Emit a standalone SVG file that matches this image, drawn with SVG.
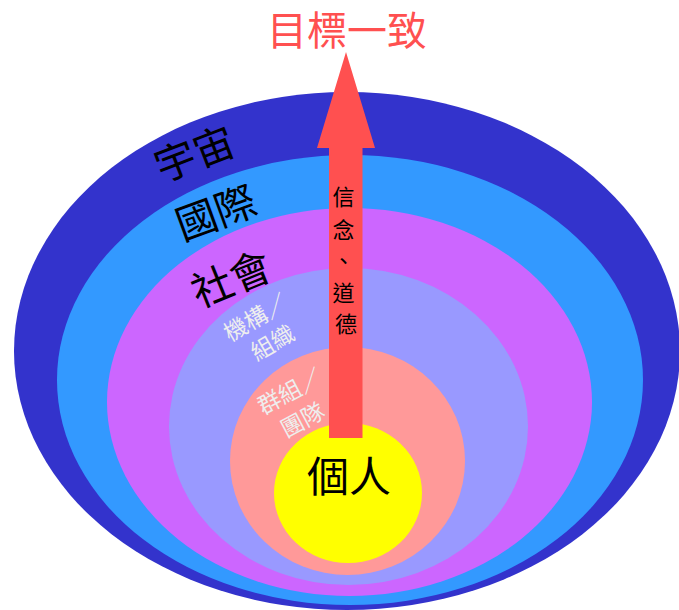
<svg xmlns="http://www.w3.org/2000/svg" width="679" height="610" viewBox="0 0 679 610">
<style>
.cjk{font-family:"Noto Sans CJK TC","Noto Sans CJK JP",sans-serif;}
.dark{fill:#000000;}
.light{fill:#EEEEEE;}
.big{font-size:41px;}
.mid{font-size:23px;}
</style>
<rect width="679" height="610" fill="#FFFFFF"/>
<g id="universe">
<ellipse cx="347" cy="351" rx="333" ry="259" fill="#3333CC"/>
<text class="cjk dark big" text-anchor="middle" transform="translate(200,168) rotate(-21)">宇宙</text>
</g>
<g id="international">
<ellipse cx="350" cy="380" rx="293" ry="225" fill="#3399FF"/>
<text class="cjk dark big" text-anchor="middle" transform="translate(221,227) rotate(-20)">國際</text>
</g>
<g id="society">
<ellipse cx="349.5" cy="402" rx="242.5" ry="194" fill="#CC66FF"/>
<text class="cjk dark big" text-anchor="middle" transform="translate(237,293) rotate(-22)">社會</text>
</g>
<g id="organization">
<ellipse cx="348.5" cy="426.5" rx="179.5" ry="158.5" fill="#9999FF"/>
<g transform="translate(256,318) rotate(-30)">
<text class="cjk light mid" text-anchor="middle" y="8">機構／</text>
<text class="cjk light mid" text-anchor="middle" x="2" y="38">組織</text>
</g>
</g>
<g id="team">
<ellipse cx="347.5" cy="461" rx="117.5" ry="114" fill="#FF9999"/>
<g transform="translate(290,392) rotate(-28)">
<text class="cjk light mid" text-anchor="middle" y="8">群組／</text>
<text class="cjk light mid" text-anchor="middle" x="-2" y="39">團隊</text>
</g>
</g>
<g id="individual">
<ellipse cx="348" cy="493" rx="74" ry="70" fill="#FFFF00"/>
<text class="cjk dark" font-size="42" text-anchor="middle" x="349" y="492">個人</text>
</g>
<g id="connectors">
<polygon points="346,52 375,148 362.5,148 362.5,438 329,438 329,148 317,148" fill="#FF5050"/>
<text class="cjk dark" font-size="22" text-anchor="middle">
<tspan x="346" y="205">信</tspan>
<tspan x="346" y="238">念</tspan>
<tspan x="346" y="269">、</tspan>
<tspan x="346" y="301">道</tspan>
<tspan x="346" y="332">德</tspan>
</text>
</g>
<g id="goal">
<text class="cjk" font-size="40" fill="#FF5050" text-anchor="middle" x="347" y="45">目標一致</text>
</g>
</svg>
